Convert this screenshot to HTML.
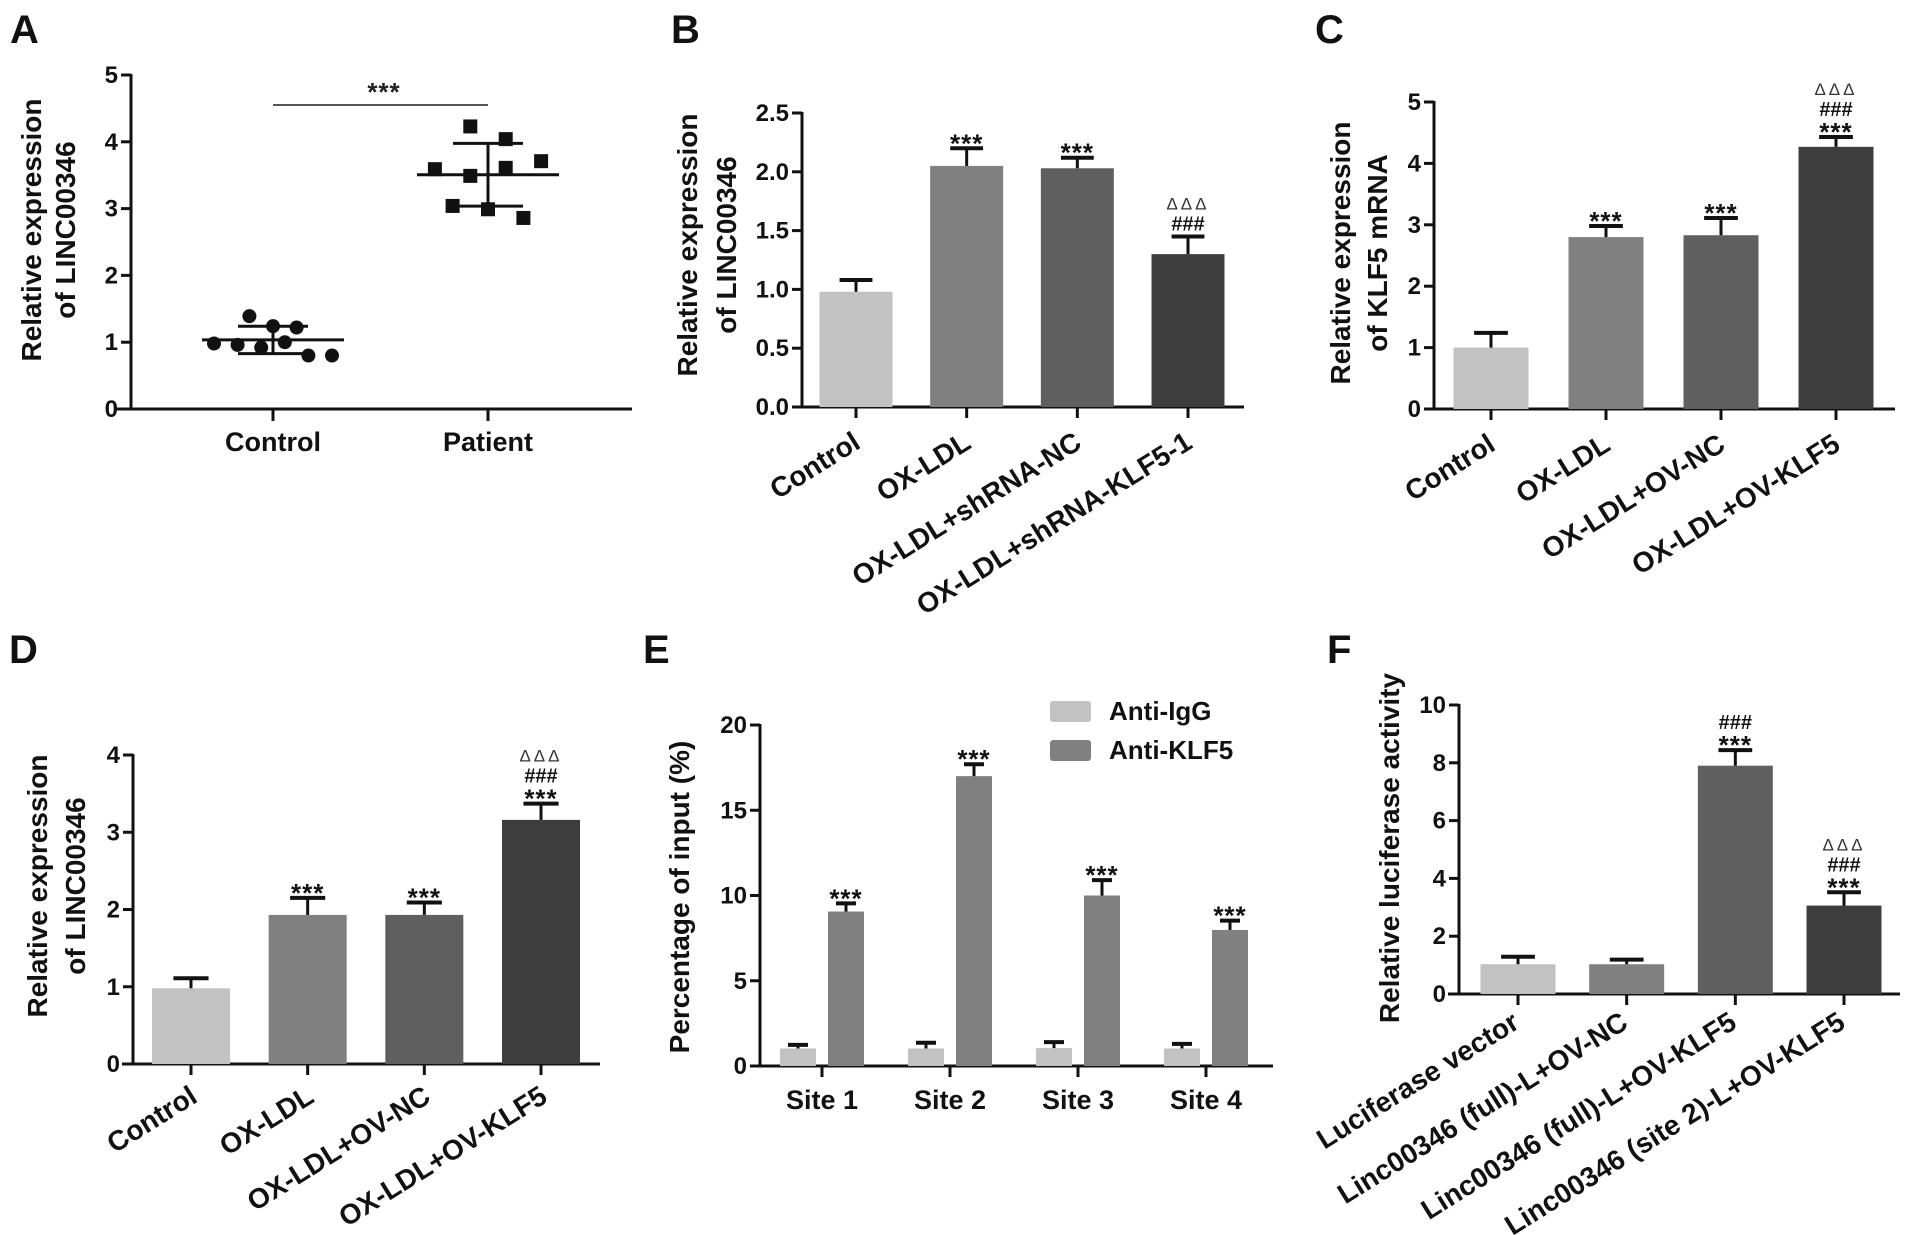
<!DOCTYPE html>
<html><head><meta charset="utf-8">
<style>
html,body{margin:0;padding:0;background:#fff;}
svg{display:block;font-family:"Liberation Sans",Arial,sans-serif;}
</style></head>
<body>
<svg id="fig" width="1913" height="1235" viewBox="0 0 1913 1235" xmlns="http://www.w3.org/2000/svg"></svg>
<script>
// ---------- Panel A data ----------
const aCategories = ["Control", "Patient"];
const aControlValues = [1.39, 0.98, 0.96, 0.92, 1.24, 1.22, 1.0, 0.80, 0.80];
const aPatientValues = [4.23, 4.04, 3.59, 3.49, 3.61, 3.71, 3.04, 2.99, 2.86];
const aTicks = [0, 1, 2, 3, 4, 5];
// ---------- Panel B data ----------
const bCategories = ["Control", "OX-LDL", "OX-LDL+shRNA-NC", "OX-LDL+shRNA-KLF5-1"];
const bValues = [0.98, 2.05, 2.03, 1.30];
const bErrors = [0.10, 0.15, 0.09, 0.15];
const bSig = [[], ["***"], ["***"], ["###", "ΔΔΔ"]];
const bTicks = ["0.0", "0.5", "1.0", "1.5", "2.0", "2.5"];
// ---------- Panel C data ----------
const cCategories = ["Control", "OX-LDL", "OX-LDL+OV-NC", "OX-LDL+OV-KLF5"];
const cValues = [1.00, 2.80, 2.83, 4.27];
const cErrors = [0.24, 0.18, 0.28, 0.16];
const cSig = [[], ["***"], ["***"], ["***", "###", "ΔΔΔ"]];
const cTicks = ["0", "1", "2", "3", "4", "5"];
// ---------- Panel D data ----------
const dCategories = ["Control", "OX-LDL", "OX-LDL+OV-NC", "OX-LDL+OV-KLF5"];
const dValues = [0.98, 1.93, 1.93, 3.16];
const dErrors = [0.13, 0.22, 0.16, 0.21];
const dSig = [[], ["***"], ["***"], ["***", "###", "ΔΔΔ"]];
const dTicks = ["0", "1", "2", "3", "4"];
// ---------- Panel E data ----------
const eCategories = ["Site 1", "Site 2", "Site 3", "Site 4"];
const eSeries = ["Anti-IgG", "Anti-KLF5"];
const eIgG = [1.03, 1.03, 1.05, 1.03];
const eIgGErr = [0.21, 0.33, 0.35, 0.27];
const eKLF5 = [9.06, 17.0, 10.0, 7.98];
const eKLF5Err = [0.48, 0.7, 0.9, 0.55];
const eTicks = ["0", "5", "10", "15", "20"];
// ---------- Panel F data ----------
const fCategories = ["Luciferase vector", "Linc00346 (full)-L+OV-NC", "Linc00346 (full)-L+OV-KLF5", "Linc00346 (site 2)-L+OV-KLF5"];
const fValues = [1.03, 1.03, 7.90, 3.06];
const fErrors = [0.26, 0.16, 0.54, 0.46];
const fSig = [[], [], ["***", "###"], ["***", "###", "ΔΔΔ"]];
const fTicks = ["0", "2", "4", "6", "8", "10"];

const NS = "http://www.w3.org/2000/svg";
const svg = document.getElementById("fig");
function mk(tag, attrs, parent) {
  const e = document.createElementNS(NS, tag);
  for (const k in attrs) e.setAttribute(k, attrs[k]);
  (parent || svg).appendChild(e);
  return e;
}
function txt(str, attrs, parent) {
  const t = mk("text", attrs, parent);
  t.textContent = str;
  return t;
}
const barColors = ["#c2c2c2", "#808080", "#5f5f5f", "#3d3d3d"];

function panelLetter(ch, x, y) {
  const t = txt(ch, {x: x, y: y, "font-size": 40, "font-weight": "bold", fill: "#111"});
  
  
}

function axes(g, L, ticks) {
  const y = v => L.y0 - (v - L.vmin) / (L.vmax - L.vmin) * (L.y0 - L.y1);
  const ya = mk("line", {x1: L.ax, y1: L.y1 - 1, x2: L.ax, y2: L.y0 + 1.5, stroke: "#111", "stroke-width": 3}, g);
  
  
  const xa = mk("line", {x1: L.xs, y1: L.y0, x2: L.xe, y2: L.y0, stroke: "#111", "stroke-width": 3}, g);
  
  
  ticks.forEach((lab, i) => {
    const v = L.vmin + i * (L.vmax - L.vmin) / (ticks.length - 1);
    const tk = mk("line", {x1: L.ax - 10, y1: y(v), x2: L.ax, y2: y(v), stroke: "#111", "stroke-width": 3}, g);
    
    
    const tl = txt(lab, {x: L.ax - 13, y: y(v) + 8, "text-anchor": "end", "font-size": 24, "font-weight": "bold", fill: "#111"}, g);
    
    
  });
  L.titles.forEach((tt, i) => {
    const t = txt(tt, {x: L.tx[i], y: L.tcy, "text-anchor": "middle", "font-size": 28, "font-weight": "bold", fill: "#111",
      transform: "rotate(-90 " + L.tx[i] + " " + L.tcy + ")"}, g);
    
    
  });
  return y;
}

function sigStack(g, cx, errTop, syms) {
  let cursor = errTop - 6;
  syms.forEach(s => {
    let t;
    if (s === "***") {
      const b = cursor + 10;
      t = txt(s, {x: cx, y: b, "text-anchor": "middle", "font-size": 26, "font-weight": "bold", "letter-spacing": 1, fill: "#111"}, g);
      cursor = b - 25;
    } else if (s === "###") {
      t = txt(s, {x: cx, y: cursor, "text-anchor": "middle", "font-size": 20, "font-weight": "bold", fill: "#111"}, g);
      cursor = cursor - 21;
    } else {
      t = txt(s, {x: cx, y: cursor, "text-anchor": "middle", "font-size": 17, "letter-spacing": 3, fill: "#333"}, g);
      cursor = cursor - 20;
    }
    
    
  });
}

function errBar(g, cx, yTop, yErr, cap) {
  const v = mk("line", {x1: cx, y1: yTop, x2: cx, y2: yErr, stroke: "#111", "stroke-width": 3}, g);
  
  
  const c = mk("line", {x1: cx - cap / 2, y1: yErr, x2: cx + cap / 2, y2: yErr, stroke: "#111", "stroke-width": 4}, g);
  
  
}

function barPanel(name, L, cats, vals, errs, sigs, ticks) {
  const g = mk("g", {});
  
  
  const y = axes(g, L, ticks);
  const n = cats.length;
  const step = (L.cLast - L.cFirst) / (n - 1);
  cats.forEach((c, i) => {
    const cx = L.cFirst + i * step;
    const r = mk("rect", {x: cx - L.bw / 2, y: y(vals[i]), width: L.bw, height: L.y0 - y(vals[i]), fill: barColors[i]}, g);
    
    
    errBar(g, cx, y(vals[i]), y(vals[i] + errs[i]), L.bw * 0.45);
    sigStack(g, cx, y(vals[i] + errs[i]), sigs[i]);
    const tk = mk("line", {x1: cx, y1: L.y0, x2: cx, y2: L.y0 + 11, stroke: "#111", "stroke-width": 3}, g);
    
    
    const lx = cx + L.lo[0], ly = L.y0 + L.lo[1];
    const t = txt(c, {x: lx, y: ly, "text-anchor": "end", "font-size": 28, "font-weight": "bold", fill: "#111",
      transform: "rotate(-32 " + lx + " " + ly + ")"}, g);
    
    
  });
}

// ---------- Panel A ----------
panelLetter("A", 10, 43);
(function () {
  const L = {ax: 131, y0: 409, y1: 75, vmin: 0, vmax: 5, xs: 116, xe: 632, titles: ["Relative expression", "of LINC00346"], tx: [41, 75], tcy: 230};
  const g = mk("g", {});
  
  
  const y = axes(g, L, aTicks.map(String));
  const centers = [273, 488];
  const jitter = [-0.4, -1, -0.6, -0.2, 0, 0.4, 0.2, 0.6, 1];
  const jitterP = [-0.3, 0.3, -0.9, -0.3, 0.3, 0.9, -0.6, 0, 0.6];
  const groups = [aControlValues, aPatientValues];
  groups.forEach((vals, gi) => {
    const cx = centers[gi];
    const mean = vals.reduce((a, b) => a + b, 0) / vals.length;
    const sd = Math.sqrt(vals.reduce((a, b) => a + (b - mean) * (b - mean), 0) / (vals.length - 1));
    vals.forEach((v, i) => {
      let m;
      if (gi === 0) {
        m = mk("circle", {cx: cx + jitter[i] * 59, cy: y(v), r: 7, fill: "#111"}, g);
      } else {
        m = mk("rect", {x: cx + jitterP[i] * 59 - 7, y: y(v) - 7, width: 14, height: 14, fill: "#111"}, g);
      }
      
      
    });
    const ml = mk("line", {x1: cx - 71, y1: y(mean), x2: cx + 71, y2: y(mean), stroke: "#111", "stroke-width": 3}, g);
    
    
    [mean + sd, mean - sd].forEach(v => {
      const s = mk("line", {x1: cx - 35, y1: y(v), x2: cx + 35, y2: y(v), stroke: "#111", "stroke-width": 3}, g);
      
      
    });
    const vl = mk("line", {x1: cx, y1: y(mean + sd), x2: cx, y2: y(mean - sd), stroke: "#111", "stroke-width": 3}, g);
    
    
    const tk = mk("line", {x1: cx, y1: L.y0, x2: cx, y2: L.y0 + 12, stroke: "#111", "stroke-width": 3}, g);
    
    
    const t = txt(aCategories[gi], {x: cx, y: 451, "text-anchor": "middle", "font-size": 27, "font-weight": "bold", fill: "#111"}, g);
    
    
  });
  const sl = mk("line", {x1: 273, y1: 105, x2: 488, y2: 105, stroke: "#555", "stroke-width": 2}, g);
  
  
  const st = txt("***", {x: 384, y: 101, "text-anchor": "middle", "font-size": 26, "font-weight": "bold", "letter-spacing": 1, fill: "#222"}, g);
  
  
})();

// ---------- Panel B ----------
panelLetter("B", 671, 43);
barPanel("b", {ax: 802, y0: 407, y1: 113, vmin: 0, vmax: 2.5, xs: 793, xe: 1244, titles: ["Relative expression", "of LINC00346"], tx: [697, 736], tcy: 245,
  cFirst: 856, cLast: 1188, bw: 73, lo: [6, 40]}, bCategories, bValues, bErrors, bSig, bTicks);

// ---------- Panel C ----------
panelLetter("C", 1315, 43);
barPanel("c", {ax: 1434, y0: 409, y1: 102, vmin: 0, vmax: 5, xs: 1424, xe: 1895, titles: ["Relative expression", "of  KLF5 mRNA"], tx: [1350, 1387], tcy: 253,
  cFirst: 1491, cLast: 1836, bw: 75, lo: [6, 40]}, cCategories, cValues, cErrors, cSig, cTicks);

// ---------- Panel D ----------
panelLetter("D", 9, 663);
barPanel("d", {ax: 133, y0: 1064, y1: 755, vmin: 0, vmax: 4, xs: 122, xe: 600, titles: ["Relative expression", "of LINC00346"], tx: [47, 85], tcy: 886,
  cFirst: 191, cLast: 541, bw: 78, lo: [8, 37]}, dCategories, dValues, dErrors, dSig, dTicks);

// ---------- Panel E ----------
panelLetter("E", 643, 663);
(function () {
  const L = {ax: 760, y0: 1066, y1: 725, vmin: 0, vmax: 20, xs: 750, xe: 1273, titles: ["Percentage of input (%)"], tx: [689], tcy: 897};
  const g = mk("g", {});
  
  
  const y = axes(g, L, eTicks);
  const first = 822, last = 1206, step = (last - first) / (eCategories.length - 1);
  const series = [[eIgG, eIgGErr, "#c2c2c2"], [eKLF5, eKLF5Err, "#808080"]];
  eCategories.forEach((c, i) => {
    const gc = first + i * step;
    series.forEach((s, si) => {
      const cx = gc + (si === 0 ? -24 : 24);
      const v = s[0][i], e = s[1][i];
      const r = mk("rect", {x: cx - 18, y: y(v), width: 36, height: L.y0 - y(v), fill: s[2]}, g);
      
      
      errBar(g, cx, y(v), y(v + e), 20);
      if (si === 1) sigStack(g, cx, y(v + e), ["***"]);
    });
    const tk = mk("line", {x1: gc, y1: L.y0, x2: gc, y2: L.y0 + 11, stroke: "#111", "stroke-width": 3}, g);
    
    
    const t = txt(c, {x: gc, y: 1109, "text-anchor": "middle", "font-size": 27, "font-weight": "bold", fill: "#111"}, g);
    
    
  });
  eSeries.forEach((s, i) => {
    const sw = mk("rect", {x: 1050, y: 701 + i * 39, width: 41, height: 21, rx: 3, fill: series[i][2]}, g);
    
    
    const t = txt(s, {x: 1109, y: 720 + i * 39, "font-size": 26, "font-weight": "bold", fill: "#111"}, g);
    
    
  });
})();

// ---------- Panel F ----------
panelLetter("F", 1327, 663);
barPanel("f", {ax: 1459, y0: 994, y1: 705, vmin: 0, vmax: 10, xs: 1448, xe: 1900, titles: ["Relative luciferase activity"], tx: [1399], tcy: 848,
  cFirst: 1518, cLast: 1844, bw: 75, lo: [3, 33]}, fCategories, fValues, fErrors, fSig, fTicks);
</script>
</body></html>
